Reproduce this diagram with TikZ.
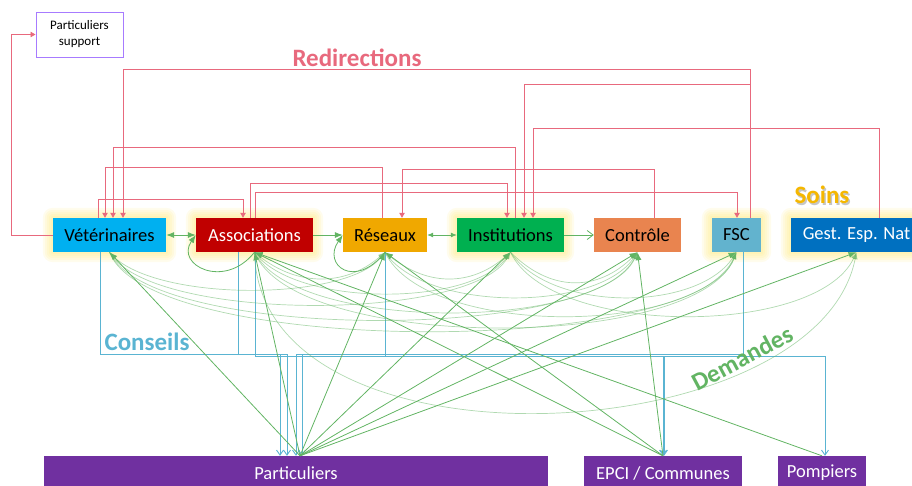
\documentclass[tikz,border=0pt]{standalone}
\usepackage{fontspec}
\setmainfont{Carlito}
\usetikzlibrary{arrows.meta,backgrounds,calc}

\definecolor{figVet}  {HTML}{00B0F0}
\definecolor{figAsso} {HTML}{C00000}
\definecolor{figRes}  {HTML}{F0A800}
\definecolor{figInst} {HTML}{00B050}
\definecolor{figCtrl} {HTML}{E9844F}
\definecolor{figFsc}  {HTML}{62B3CE}
\definecolor{figGest} {HTML}{0070C0}
\definecolor{figPub}  {HTML}{7030A0}
\definecolor{figSupp} {HTML}{A77BFF}
\definecolor{figRed}  {HTML}{E8697D}
\definecolor{figBlue} {HTML}{5AB4D2}
\definecolor{figGreen}{HTML}{62B463}
\definecolor{figGold} {HTML}{F5B700}
\definecolor{figGlow} {HTML}{FFE45C}

\begin{document}
\begin{tikzpicture}[x=1pt, y=-1pt,
    figbox/.style={minimum height=34pt, inner sep=0pt,
      font=\fontsize{18.5}{20}\selectfont},
    redir/.style={figRed, line width=0.8pt,
      -{Triangle[length=5pt,width=5.5pt]}},
    conseil/.style={figBlue, line width=0.9pt,
      -{Straight Barb[length=5pt,width=7pt]}},
    demande/.style={figGreen, line width=0.8pt,
      -{Latex[length=8pt,width=6pt]}},
    demcurve/.style={figGreen, opacity=0.5, line width=0.7pt,
      -{Latex[length=7pt,width=5pt]}},
    lbl/.style={font=\fontsize{25}{26}\selectfont\bfseries}]
        \useasboundingbox (0,0) rectangle (912,485);

        % acteurs
        \node[figbox, fill=figVet, minimum width=113pt]
              (vet) at (109.5,235){Vétérinaires};
        \node[figbox, fill=figAsso, text=white, minimum width=117pt]
              (asso) at (254.5,235){Associations};
        \node[figbox, fill=figRes, minimum width=84pt]
              (res) at (385,235){Réseaux};
        \node[figbox, fill=figInst, minimum width=107pt]
              (inst) at (510.5,235){Institutions};
        \node[figbox, fill=figCtrl, minimum width=87pt]
              (ctrl) at (637.5,235){Contrôle};
        \node[figbox, fill=figFsc, minimum width=49pt]
              (fsc) at (736.5,235){FSC};
        \node[figbox, fill=figGest, text=white, minimum width=131pt]
              (gest) at (856.5,235){Gest. Esp. Nat};
        \node[draw=figSupp, line width=1pt, fill=white, align=center,
              minimum width=87pt, minimum height=45pt,
              font=\fontsize{13}{16}\selectfont]
              (supp) at (79.5,34.5){Particuliers\\support};

        % public
        \node[figbox, fill=figPub, text=white, minimum width=504pt]
              (part) at (296,473){Particuliers};
        \node[figbox, fill=figPub, text=white, minimum width=158pt]
              (epci) at (663,473){EPCI / Communes};
        \node[figbox, fill=figPub, text=white, minimum width=88pt]
              (pomp) at (822,473){Pompiers};

        % halo jaune
        \begin{scope}[on background layer]
          \foreach \n in {vet,asso,inst,fsc,gest}
            \foreach \r in {2,4,...,10}
              \fill[figGlow, opacity=0.11, rounded corners=\r pt]
                ($(\n.south west)+(-\r,\r)$) rectangle ($(\n.north east)+(\r,-\r)$);
        \end{scope}

        % redirections
        \draw[redir](vet.west)--++(-41,0)|-(supp.west);
        \draw[redir]([xshift=13.5pt]fsc.north)--++(0,-148)-|([xshift=13.5pt]vet.north);
        \draw[redir]([xshift=13.5pt]fsc.north)--++(0,-133)-|([xshift=13.5pt]inst.north);
        \draw[redir]([xshift=22.5pt]gest.north)--++(0,-89)-|([xshift=22.5pt]inst.north);
        \draw[redir]([xshift=4.5pt]inst.north)--++(0,-70)-|([xshift=3.5pt]vet.north);
        \draw[redir]([xshift=-3pt]res.north)--++(0,-50)-|([xshift=-4.5pt]vet.north);
        \draw[redir]([xshift=16.5pt]ctrl.north)--++(0,-48)-|([xshift=17pt]res.north);
        \draw[redir]([xshift=-4.5pt]asso.north)--++(0,-34)-|([xshift=-3.5pt]inst.north);
        \draw[redir]([xshift=0.5pt]asso.north)--++(0,-25)-|([xshift=0.5pt]fsc.north);
        \draw[redir]([xshift=-11.5pt]vet.north)--++(0,-18)-|([xshift=-11.5pt]asso.north);
        \node[lbl, figRed] (redirL) at (357,58){Redirections};
        \node[lbl, gray!45] (soinsS) at (823.5,196.5){Soins};
        \node[lbl, figGold] (soinsL) at (822,195){Soins};

        % conseils
        \draw[conseil]([xshift=-9.5pt]vet.south)--++(0,102)-|([xshift=-16pt]part.north);
        \draw[conseil]([xshift=-16.5pt]asso.south)--++(0,102)-|([xshift=-9pt]part.north);
        \draw[conseil](res.south)--++(0,102)-|(part.north);
        \draw[conseil]([xshift=6.5pt]fsc.south)--++(0,102)-|([xshift=6pt]part.north);
        \draw[conseil]([xshift=0.5pt]asso.south)--++(0,104)-|([xshift=1pt]epci.north);
        \draw[conseil](res.south)--++(0,104)-|(epci.north);
        \draw[conseil]([xshift=0.5pt]asso.south)--++(0,104)-|([xshift=3pt]pomp.north);
        \node[lbl, figBlue] (consL) at (147,342){Conseils};

        % demandes
        \draw[demande, {Latex[length=8pt,width=6pt]}-{Latex[length=8pt,width=6pt]}](vet)--(asso);
        \draw[demande](asso)--(res);
        \draw[demande, {Latex[length=6pt,width=5pt]}-{Latex[length=6pt,width=5pt]}](res)--(inst);
        \draw[demande, -{Straight Barb[length=6pt,width=9pt]}](inst)--(ctrl);
        \draw[demande](asso.south)..controls +(-30,38) and +(-21,30)..(asso.west);
        \draw[demande](res.south)..controls +(-30,38) and +(-21,30)..(res.west);
        \foreach \t in {vet,asso,res,inst,ctrl,fsc,gest}
          \draw[demande]([xshift=4pt]part.north)--(\t.south);
        \foreach \t in {asso,res,ctrl}
          \draw[demande](epci.north)--(\t.south);
        \draw[demande](pomp.north)--(asso.south);
        \foreach \a/\b/\d in {vet/res/50, vet/inst/70, vet/ctrl/90, vet/fsc/105,
                              asso/res/35, asso/inst/55, asso/ctrl/80, asso/fsc/100,
                              res/inst/35, res/ctrl/60, res/fsc/85,
                              inst/ctrl/40, inst/fsc/60, inst/gest/85}
          \draw[demcurve](\a.south)..controls +(40,\d) and +(-40,\d)..(\b.south);
        \draw[demcurve](asso.south)..controls +(5,228) and +(-40,200)..(gest.south);
        \node[lbl, figGreen, rotate=28] (demL) at (742,358){Demandes};
      \end{tikzpicture}
\end{document}
